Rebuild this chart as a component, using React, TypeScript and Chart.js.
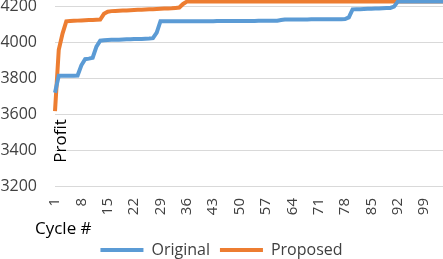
import React, { useEffect, useRef } from 'react';
import { Chart, registerables } from 'chart.js';

Chart.register(...registerables);

// Categories: cycle numbers
const cycles: string[] = Array.from({ length: 104 }, (_, i) => String(i + 1));

// Tick labels shown on the x axis
const xTickLabels: string[] = ['1', '8', '15', '22', '29', '36', '43', '50', '57', '64', '71', '78', '85', '92', '99'];

// Y tick values
const yTickValues: number[] = [3200, 3400, 3600, 3800, 4000, 4200];

// Series: Original
const original: number[] = [
  3720, 3815, 3815, 3815, 3815, 3815, 3816, 3873, 3907, 3910,
  3915, 3977, 4010, 4012, 4014, 4015, 4016, 4016, 4017, 4018,
  4018, 4019, 4020, 4020, 4021, 4022, 4024, 4055, 4119, 4119,
  4119, 4119, 4119, 4119, 4119, 4119, 4119, 4119, 4119, 4119,
  4119, 4119, 4119, 4120, 4120, 4120, 4120, 4120, 4120, 4120,
  4120, 4120, 4120, 4120, 4121, 4121, 4121, 4121, 4121, 4121,
  4125, 4128, 4128, 4128, 4128, 4128, 4128, 4128, 4129, 4129,
  4129, 4129, 4129, 4130, 4130, 4130, 4130, 4131, 4140, 4185,
  4186, 4186, 4187, 4188, 4188, 4189, 4190, 4191, 4192, 4193,
  4200, 4228, 4228, 4228, 4228, 4228, 4228, 4228, 4228, 4228,
  4228, 4228, 4228, 4228,
];

// Series: Proposed
const proposed: number[] = [
  3617, 3960, 4050, 4118, 4120, 4121, 4122, 4123, 4124, 4125,
  4126, 4127, 4128, 4160, 4172, 4175, 4176, 4177, 4178, 4179,
  4180, 4181, 4182, 4183, 4184, 4185, 4186, 4187, 4188, 4189,
  4190, 4191, 4193, 4195, 4215, 4228, 4228, 4228, 4228, 4228,
  4228, 4228, 4228, 4228, 4228, 4228, 4228, 4228, 4228, 4228,
  4228, 4228, 4228, 4228, 4228, 4228, 4228, 4228, 4228, 4228,
  4229, 4229, 4229, 4229, 4229, 4229, 4229, 4229, 4229, 4229,
  4229, 4229, 4229, 4229, 4229, 4229, 4229, 4229, 4229, 4229,
  4229, 4229, 4229, 4229, 4229, 4229, 4229, 4229, 4229, 4229,
  4229, 4229, 4229, 4229, 4229, 4229, 4229, 4229, 4229, 4229,
  4229, 4229, 4229, 4229,
];

const BLUE = '#5b9bd5';
const ORANGE = '#ed7d31';
const FONT = '"Open Sans", "DejaVu Sans", sans-serif';

const titlePlugin = {
  id: 'axisTitles',
  beforeLayout(chart: any) {
    const lg = chart.legend;
    if (lg && !lg.__patched) {
      const orig = lg.fit.bind(lg);
      lg.fit = function () {
        orig();
        this.height = 27;
      };
      lg.__patched = true;
    }
  },
  afterDraw(chart: any) {
    const ctx = chart.ctx;
    const a = chart.chartArea;
    ctx.save();
    ctx.fillStyle = '#000000';
    ctx.font = `17px ${FONT}`;
    ctx.textBaseline = 'middle';
    ctx.save();
    ctx.translate(a.left + 6, a.top + 141);
    ctx.rotate(-Math.PI / 2);
    ctx.textAlign = 'center';
    ctx.fillText('Profit', 0, 0);
    ctx.restore();
    ctx.textAlign = 'left';
    ctx.fillText('Cycle #', 35, a.bottom + 43);
    ctx.restore();
  },
};

export default function App() {
  const ref = useRef<HTMLCanvasElement | null>(null);

  useEffect(() => {
    if (!ref.current) return;
    const chart = new Chart(ref.current, {
      type: 'line',
      data: {
        labels: cycles,
        datasets: [
          {
            label: 'Original',
            data: original,
            borderColor: BLUE,
            backgroundColor: BLUE,
            borderWidth: 4,
            pointRadius: 0,
            tension: 0,
          },
          {
            label: 'Proposed',
            data: proposed,
            borderColor: ORANGE,
            backgroundColor: ORANGE,
            borderWidth: 4,
            pointRadius: 0,
            tension: 0,
          },
        ],
      },
      options: {
        responsive: false,
        animation: false,
        layout: { padding: 0 },
        plugins: {
          legend: {
            position: 'bottom',
            labels: {
              boxWidth: 43,
              boxHeight: 0,
              padding: 10,
              color: '#404040',
              font: { family: FONT, size: 16 },
            },
          },
          tooltip: { enabled: false },
        },
        scales: {
          x: {
            type: 'category',
            offset: false,
            grid: { display: false, drawTicks: false },
            border: { display: false },
            ticks: {
              autoSkip: false,
              minRotation: 90,
              maxRotation: 90,
              padding: 12,
              color: '#404040',
              font: { family: FONT, size: 15 },
              callback: function (this: any, value: any, index: number) {
                const lbl = cycles[index];
                return xTickLabels.includes(lbl) ? lbl : '';
              },
            },
            afterFit(scale: any) {
              scale.height = 46;
              scale.paddingLeft = 0;
              scale.paddingRight = 0;
            },
          },
          y: {
            min: 3200,
            max: 4237,
            grid: { color: '#d9d9d9', lineWidth: 1, drawTicks: false },
            border: { display: false },
            ticks: {
              padding: 18,
              color: '#404040',
              font: { family: FONT, size: 16 },
              callback: (v: any) => String(v),
            },
            afterBuildTicks(scale: any) {
              scale.ticks = yTickValues.map((v) => ({ value: v }));
            },
            afterFit(scale: any) {
              scale.width = 55;
              scale.paddingTop = 0;
              scale.paddingBottom = 0;
            },
          },
        },
      },
      plugins: [titlePlugin],
    });
    return () => chart.destroy();
  }, []);

  return (
    <div style={{ position: 'fixed', left: 0, top: 0, width: 443, height: 259 }}>
      <canvas ref={ref} width={443} height={259} style={{ display: 'block' }} />
    </div>
  );
}
